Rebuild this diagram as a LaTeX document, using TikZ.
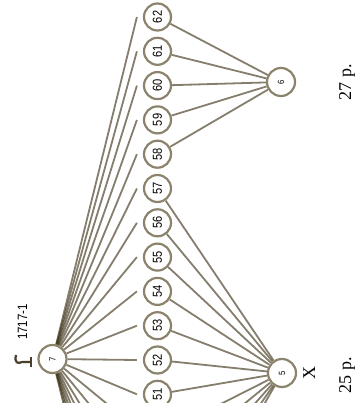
\documentclass[tikz,border=0pt]{standalone}
\usepackage{fontspec}
\usepackage{graphicx}
\setmainfont{Liberation Serif}
\newfontfamily\numfont[FakeStretch=0.85]{Liberation Sans}
\pgfdeclarelayer{bg}
\pgfsetlayers{bg,main}
\definecolor{ln}{HTML}{3A2E14}
\definecolor{cs}{HTML}{8C836C}
\definecolor{sym}{HTML}{4A3F2A}
\begin{document}
\begin{tikzpicture}[x=1pt,y=-1pt,
  small/.style={circle,draw=cs,line width=2.2pt,fill=white,minimum size=27pt,inner sep=0pt,
    font=\numfont\fontsize{13}{13}\selectfont},
  big/.style={circle,draw=cs,line width=2.2pt,fill=white,minimum size=28pt,inner sep=0pt,
    font=\numfont\fontsize{9}{9}\selectfont},
  link/.style={draw=ln,line width=1.8pt,draw opacity=0.62},
  lbl/.style={inner sep=0pt,rotate=90,anchor=base}]
\useasboundingbox (0,0) rectangle (358,403);
\foreach \k in {51,...,62}{
  \node[small] (n\k) at (157.5,{17+(62-\k)*34.3}) {\rotatebox{90}{\k}};
}
\foreach \k in {42,...,50}{
  \coordinate (n\k) at (157.5,{17+(62-\k)*34.3});
}
\node[big] (n7) at (52.5,359) {\rotatebox{90}{7}};
\node[big] (n6) at (281,82) {\rotatebox{90}{6}};
\node[big] (n5) at (282,373) {\rotatebox{90}{5}};
\node[lbl,font=\numfont\fontsize{13.5}{13.5}\selectfont] (t1) at (27,322) {1717-1};
\node[lbl,font=\fontsize{18}{18}\selectfont] (tx) at (315,373) {X};
\node[lbl,font=\fontsize{18}{18}\selectfont] (t25) at (351,375) {25 p.};
\node[lbl,font=\fontsize{18}{18}\selectfont] (t27) at (351,82.5) {27 p.};
\draw[sym,line width=2.2pt] (16,355) .. controls (14,363) and (18,364) .. (22,362) -- (31,362);
\draw[sym,line width=2.2pt] (31,357) -- (31,367);
\begin{pgfonlayer}{bg}
\clip (0,0) rectangle (358,403);
\foreach \k in {51,...,62}{
  \draw[link] (n7) -- ([xshift=-6pt]n\k.west);
}
\foreach \k in {42,...,50}{
  \draw[link] (n7) -- ([xshift=-20.5pt]n\k);
}
\foreach \k in {58,...,62}{
  \draw[link] (n\k) -- (n6);
}
\foreach \k in {51,...,57}{
  \draw[link] (n\k) -- (n5);
}
\foreach \k in {46,...,50}{
  \draw[link] ([xshift=14.5pt]n\k) -- (n5);
}
\end{pgfonlayer}
\end{tikzpicture}
\end{document}
